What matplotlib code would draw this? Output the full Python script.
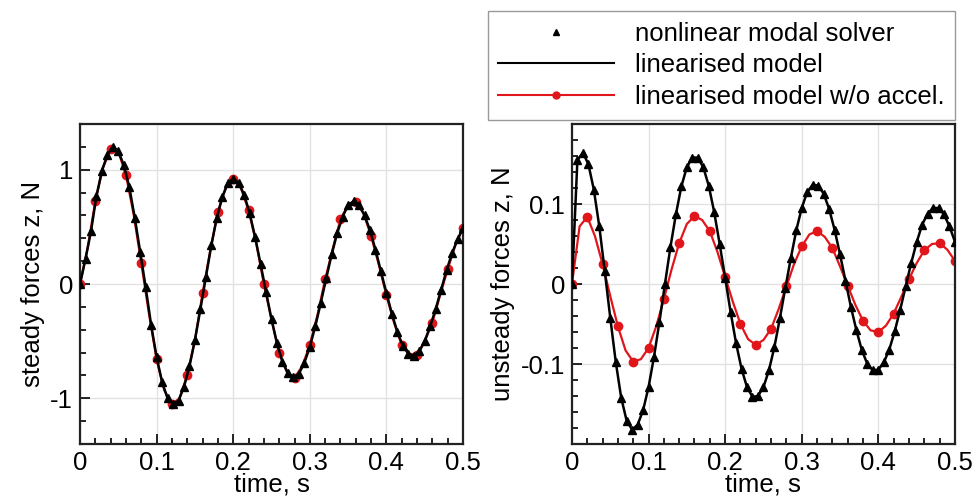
import numpy as np
import matplotlib
matplotlib.use("Agg")
import matplotlib.pyplot as plt
from matplotlib.ticker import MultipleLocator, FormatStrFormatter
from matplotlib.lines import Line2D

plt.rcParams['font.family'] = ['Liberation Sans', 'DejaVu Sans']
plt.rcParams['font.size'] = 18.5
plt.rcParams['axes.unicode_minus'] = False

# time grids (solver output step ~1/140 s, red model sampled every 0.01 s)
t_solver = np.linspace(0, 0.5, 71)
t_noacc = np.linspace(0, 0.5, 51)

# steady forces z, N
steady_solver = [0.0, 0.22, 0.46, 0.77, 0.99, 1.13, 1.20, 1.16, 1.04, 0.85,
                 0.58, 0.28, -0.03, -0.36, -0.64, -0.86, -1.00, -1.05, -1.02, -0.90,
                 -0.72, -0.49, -0.22, 0.06, 0.34, 0.58, 0.76, 0.88, 0.92, 0.885,
                 0.78, 0.62, 0.41, 0.175, -0.07, -0.31, -0.52, -0.68, -0.78, -0.815,
                 -0.785, -0.69, -0.55, -0.37, -0.165, 0.05, 0.26, 0.445, 0.59, 0.69,
                 0.725, 0.69, 0.60, 0.47, 0.30, 0.11, -0.08, -0.26, -0.42, -0.54,
                 -0.61, -0.63, -0.59, -0.50, -0.37, -0.22, -0.05, 0.12, 0.27, 0.39,
                 0.49]
steady_linear = steady_solver
steady_noacc = [0.0, 0.32, 0.725, 1.02, 1.18, 1.16, 0.95, 0.61, 0.18, -0.26,
                -0.66, -0.93, -1.05, -1.00, -0.795, -0.49, -0.08, 0.29, 0.632, 0.84,
                0.92, 0.84, 0.646, 0.36, 0.0, -0.31, -0.605, -0.77, -0.82, -0.72,
                -0.533, -0.27, 0.04, 0.31, 0.568, 0.69, 0.72, 0.62, 0.42, 0.17,
                -0.10, -0.34, -0.533, -0.61, -0.62, -0.50, -0.338, -0.10, 0.128, 0.34,
                0.49]

# unsteady forces z, N
unsteady_solver = [0.0, 0.155, 0.164, 0.150, 0.118, 0.072, 0.016, -0.042, -0.097, -0.142,
                   -0.171, -0.182, -0.176, -0.158, -0.129, -0.091, -0.047, 0.0, 0.046, 0.087,
                   0.122, 0.146, 0.158, 0.158, 0.146, 0.123, 0.090, 0.050, 0.008, -0.035,
                   -0.074, -0.106, -0.129, -0.141, -0.140, -0.129, -0.108, -0.079, -0.043, -0.005,
                   0.032, 0.067, 0.095, 0.115, 0.124, 0.123, 0.113, 0.094, 0.068, 0.037,
                   0.004, -0.029, -0.058, -0.083, -0.100, -0.108, -0.107, -0.098, -0.082, -0.059,
                   -0.032, -0.003, 0.026, 0.052, 0.074, 0.088, 0.095, 0.095, 0.087, 0.072,
                   0.053]
unsteady_linear = unsteady_solver
unsteady_noacc = [0.0, 0.072, 0.084, 0.060, 0.025, -0.015, -0.053, -0.083, -0.097, -0.094,
                  -0.080, -0.053, -0.019, 0.018, 0.051, 0.075, 0.085, 0.080, 0.066, 0.040,
                  0.009, -0.022, -0.050, -0.069, -0.076, -0.070, -0.056, -0.031, -0.003, 0.025,
                  0.047, 0.062, 0.066, 0.059, 0.045, 0.022, -0.002, -0.026, -0.046, -0.058,
                  -0.060, -0.052, -0.037, -0.016, 0.006, 0.026, 0.042, 0.050, 0.051, 0.043,
                  0.029]

steady_yticks = [-1, 0, 1]
unsteady_yticks = [-0.1, 0, 0.1]

RED = '#e0161b'

fig = plt.figure(figsize=(9.76, 4.98), dpi=100)
axL = fig.add_axes([0.082, 0.1084, 0.3924, 0.6426])
axR = fig.add_axes([0.586, 0.1084, 0.3924, 0.6426])

panels = [
    (axL, steady_solver, steady_linear, steady_noacc, 'steady forces z, N', (-1.4, 1.4), steady_yticks, 0.2),
    (axR, unsteady_solver, unsteady_linear, unsteady_noacc, 'unsteady forces z, N', (-0.2, 0.2), unsteady_yticks, 0.02),
]

for ax, solver, linear, noacc, ylab, ylim, yticks, ymin in panels:
    ax.plot(t_noacc, noacc, color=RED, lw=1.6, marker='o', ms=6, markevery=2, zorder=2)
    ax.plot(t_solver, linear, color='k', lw=1.8, zorder=3)
    ax.plot(t_solver, solver, ls='none', marker='^', ms=5.5, color='k', zorder=4)

    ax.set_xlim(0, 0.5)
    ax.set_ylim(*ylim)
    ax.xaxis.set_major_locator(MultipleLocator(0.1))
    ax.xaxis.set_minor_locator(MultipleLocator(0.02))
    ax.set_yticks(yticks)
    ax.yaxis.set_minor_locator(MultipleLocator(ymin))
    ax.xaxis.set_major_formatter(FormatStrFormatter('%g'))
    ax.yaxis.set_major_formatter(FormatStrFormatter('%g'))
    ax.tick_params(which='both', direction='in', top=False, right=False, width=1.2)
    ax.tick_params(which='major', length=7, pad=5)
    ax.tick_params(which='minor', length=4)
    ax.grid(True, which='major', color='#e2e2e2', lw=1)
    ax.set_axisbelow(True)
    for sp in ax.spines.values():
        sp.set_linewidth(1.6)
        sp.set_color('#222222')
    ax.set_xlabel('time, s', labelpad=-2)
    ax.set_ylabel(ylab, labelpad=4)

handles = [
    Line2D([], [], ls='none', marker='^', ms=5, color='k'),
    Line2D([], [], color='k', lw=1.5),
    Line2D([], [], color=RED, lw=1.5, marker='o', ms=5),
]
labels = ['nonlinear modal solver', 'linearised model', 'linearised model w/o accel.']
leg = fig.legend(handles, labels, loc='upper right', bbox_to_anchor=(0.9785, 0.978),
                 frameon=True, fancybox=False, edgecolor='#999999', framealpha=1,
                 handlelength=4.5, handletextpad=0.8, borderpad=0.42, labelspacing=0.3,
                 borderaxespad=0, numpoints=1)
leg.get_frame().set_linewidth(1)

fig.savefig('out.png', dpi=100)
